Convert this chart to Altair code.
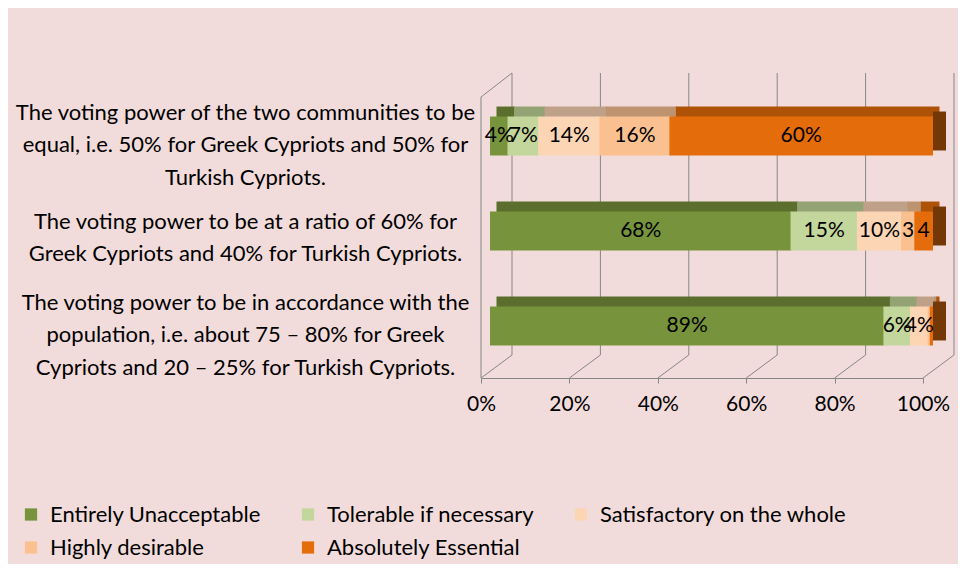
import altair as alt
import pandas as pd

# ---- data ----
statements = [
    "The voting power of the two communities to be|equal, i.e. 50% for Greek Cypriots and 50% for|Turkish Cypriots.",
    "The voting power to be at a ratio of 60% for|Greek Cypriots and 40% for Turkish Cypriots.",
    "The voting power to be in accordance with the|population, i.e. about 75 \u2013 80% for Greek|Cypriots and 20 \u2013 25% for Turkish Cypriots.",
]
categories = [
    "Entirely Unacceptable",
    "Tolerable if necessary",
    "Satisfactory on the whole",
    "Highly desirable",
    "Absolutely Essential",
]
equal_values = [4, 7, 14, 16, 60]
ratio_values = [68, 15, 10, 3, 4]
population_values = [89, 6, 4, 0.5, 0.5]

equal_labels = ["4%", "7%", "14%", "16%", "60%"]
ratio_labels = ["68%", "15%", "10%", "3", "4"]
population_labels = ["89%", "6%", "4%", "", ""]

x_ticks = [0, 0.2, 0.4, 0.6, 0.8, 1.0]

# ---- styles ----
front_colors = ["#77933C", "#C3D69B", "#FCD5B5", "#FAC090", "#E46C0A"]
top_colors = ["#5B6E2D", "#93A374", "#BFA18A", "#BE9470", "#AE5208"]
side_color = "#733806"
grid_color = "#868686"
bg = "#F2DCDB"
FONT = "Lato"

rows = []
for s, vals, labs in [
    (statements[0], equal_values, equal_labels),
    (statements[1], ratio_values, ratio_labels),
    (statements[2], population_values, population_labels),
]:
    for i, (c, v, l) in enumerate(zip(categories, vals, labs)):
        rows.append({"statement": s, "category": c, "order": i, "value": v, "label": l})
df = pd.DataFrame(rows)

y_axis = alt.Axis(
    title=None, labelExpr="split(datum.label, '|')", labelAlign="center",
    labelPadding=236, ticks=False, tickSize=0, domain=False, labelFontSize=22,
    labelFont=FONT, labelColor="black", labelLineHeight=32.5,
    labelOffset={"condition": {"test": "length(split(datum.label, '|')) > 2", "value": -23.5},
                 "value": -9.5},
    labelBaseline="middle", labelLimit=600,
)
y_enc = alt.Y("statement:N", sort=statements, axis=y_axis,
              scale=alt.Scale(paddingInner=0.59, paddingOuter=0.295))

x_axis = alt.Axis(
    title=None, format="%", values=x_ticks, offset=4.5, domainColor=grid_color,
    tickColor=grid_color, tickSize=5, labelFontSize=21, labelPadding=10,
    labelFont=FONT, labelColor="black", grid=False, labelFlush=False,
)
x_scale = alt.Scale(domain=[0, 1], nice=False, zero=True)

base = alt.Chart(df).transform_stack(
    stack="value", groupby=["statement"], as_=["x0", "x1"],
    offset="normalize", sort=[alt.SortField("order", "ascending")],
).transform_calculate(mid="(datum.x0 + datum.x1) / 2")

top = base.mark_bar(xOffset=15.5, x2Offset=16.5, yOffset=-10, y2Offset=-10).encode(
    x=alt.X("x0:Q", scale=x_scale, axis=x_axis),
    x2="x1:Q",
    y=y_enc,
    color=alt.Color("category:N", scale=alt.Scale(domain=categories, range=top_colors), legend=None),
)

side = base.transform_filter(alt.datum.category == categories[-1]).mark_bar(
    xOffset=10, x2Offset=23, yOffset=-5, y2Offset=-5, color=side_color
).encode(
    x=alt.X("x1:Q", scale=x_scale, axis=x_axis),
    x2="x1:Q",
    y=y_enc,
)

front = base.mark_bar(xOffset=9, x2Offset=10).encode(
    x=alt.X("x0:Q", scale=x_scale, axis=x_axis),
    x2="x1:Q",
    y=y_enc,
    color=alt.Color(
        "category:N",
        scale=alt.Scale(domain=categories, range=front_colors),
        legend=alt.Legend(
            title=None, orient="none", legendX=-461, legendY=415, direction="horizontal",
            columns=3, symbolType="square", symbolSize=150, symbolStrokeWidth=0,
            labelFontSize=22, labelFont=FONT, labelColor="black", gridAlign="each",
            columnPadding=36, rowPadding=11, labelOffset=8, labelLimit=400,
        ),
    ),
)

text = base.transform_filter(alt.datum.label != "").mark_text(
    xOffset=9.5, fontSize=21, font=FONT, color="black", baseline="middle"
).encode(
    x=alt.X("mid:Q", scale=x_scale, axis=x_axis),
    y=y_enc,
    text="label:N",
)

grid_df = pd.DataFrame({"t": x_ticks})
back_grid = alt.Chart(grid_df).mark_rule(color=grid_color, xOffset=31).encode(
    x=alt.X("t:Q", scale=x_scale, axis=x_axis), y=alt.value(-15.5), y2=alt.value(266.5)
)
floor_grid = alt.Chart(grid_df).mark_rule(color=grid_color, x2Offset=31).encode(
    x=alt.X("t:Q", scale=x_scale, axis=x_axis), x2="t:Q", y=alt.value(289.5), y2=alt.value(266.5)
)
wall_df = pd.DataFrame({"t": [0]})
wall_front = alt.Chart(wall_df).mark_rule(color=grid_color).encode(
    x=alt.X("t:Q", scale=x_scale, axis=x_axis), y=alt.value(8.5), y2=alt.value(289.5)
)
wall_top = alt.Chart(wall_df).mark_rule(color=grid_color, x2Offset=31).encode(
    x=alt.X("t:Q", scale=x_scale, axis=x_axis), x2="t:Q", y=alt.value(8.5), y2=alt.value(-15.5)
)

chart = alt.layer(
    back_grid, floor_grid, wall_front, wall_top, top, side, front, text
).resolve_scale(color="independent").properties(
    width=442, height=285, autosize="none",
    padding={"left": 473, "top": 80.5, "right": 35, "bottom": 190.5},
    background=bg,
).configure_view(stroke=None)

chart.save("out.html", embed_options={"renderer": "svg", "actions": False})
